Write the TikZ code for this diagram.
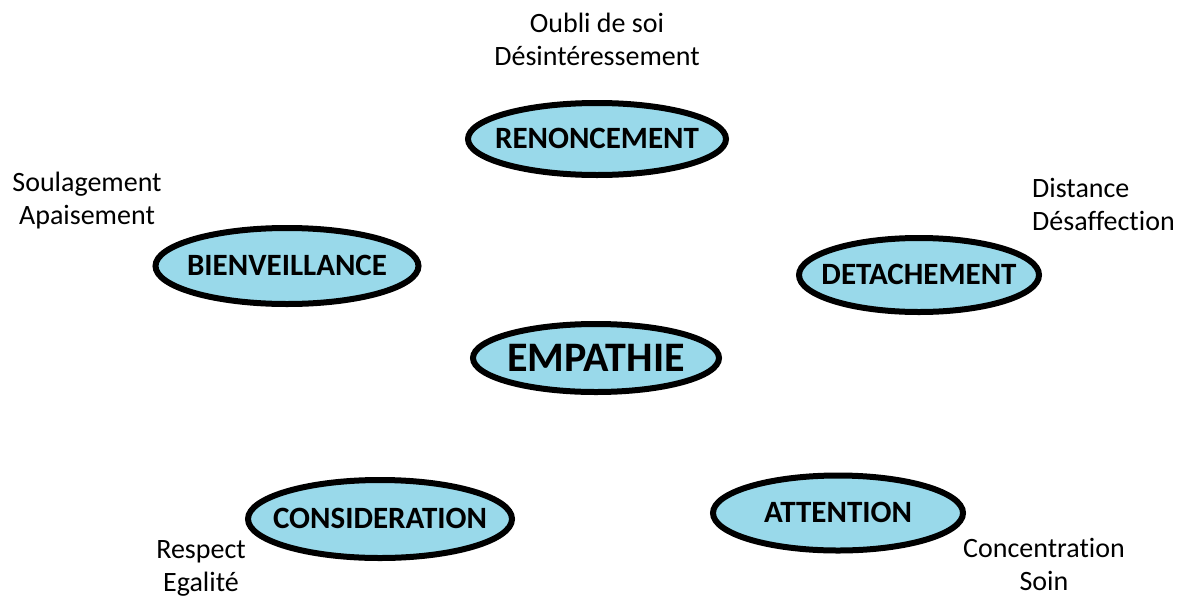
\documentclass[tikz,border=0pt]{standalone}
\usepackage{fontspec}
\setmainfont[Ligatures={NoCommon}]{Carlito}
\usetikzlibrary{shapes.geometric}
\definecolor{paintblue}{HTML}{99D9EA}
\newcommand{\ovaltext}[1]{\smash{\makebox[0pt]{\raisebox{-0.32em}{#1}}}}
\begin{document}
\begin{tikzpicture}[x=1pt,y=-1pt,
  oval/.style={ellipse,draw=black,line width=6pt,fill=paintblue,inner sep=0pt,font=\fontsize{31}{31}\selectfont\bfseries},
  note/.style={font=\fontsize{28}{33}\selectfont,inner sep=0pt}]
\useasboundingbox (0,0) rectangle (1182,597);
\node[oval,minimum width=258pt,minimum height=72pt] (ren) at (597,139) {\ovaltext{RENONCEMENT}};
\node[oval,minimum width=263pt,minimum height=76pt] (bien) at (287,266) {\ovaltext{BIENVEILLANCE}};
\node[oval,minimum width=240pt,minimum height=74pt] (det) at (919,275) {\ovaltext{DETACHEMENT}};
\node[oval,minimum width=246pt,minimum height=68pt,font=\fontsize{42}{42}\selectfont\bfseries] (emp) at (596,358) {\ovaltext{EMPATHIE}};
\node[oval,minimum width=264pt,minimum height=78pt] (cons) at (380,519) {\ovaltext{CONSIDERATION}};
\node[oval,minimum width=250pt,minimum height=75pt] (att) at (838,513) {\ovaltext{ATTENTION}};
\node[note,align=center] (nren) at (597,39) {Oubli de soi\\Désintéressement};
\node[note,align=center] (nbien) at (87,201) {Soulagement\\Apaisement};
\node[note,align=left,anchor=west] (ndet) at (1032,204) {Distance\\Désaffection};
\node[note,align=center] (ncons) at (201,568) {Respect\\Egalité};
\node[note,align=center] (natt) at (1044,564) {Concentration\\Soin};
\end{tikzpicture}
\end{document}
